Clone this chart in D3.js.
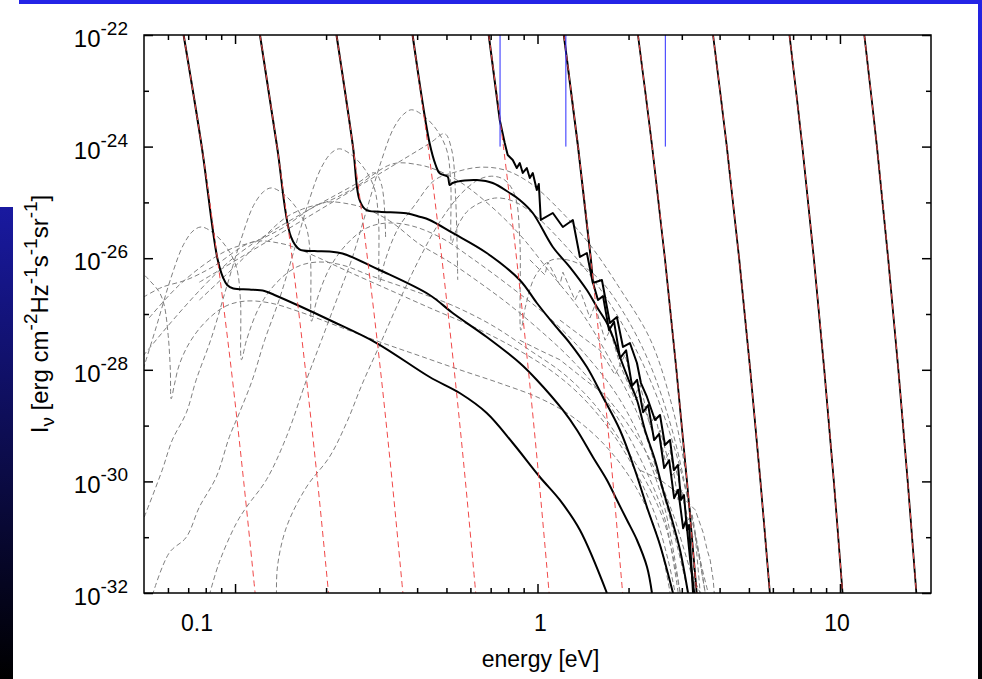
<!DOCTYPE html>
<html>
<head>
<meta charset="utf-8">
<script src="https://cdn.jsdelivr.net/npm/d3@7"></script>
<style>
  body { margin: 0; background: #fff; }
  svg { display: block; }
  text { font-family: "Liberation Sans", Arial, Helvetica, sans-serif; fill: #000; }
</style>
</head>
<body>
<svg id="chart" width="982" height="679"></svg>
<script>
// Energies in eV; intensities given as log10(I_nu) in erg cm^-2 Hz^-1 s^-1 sr^-1.

const xMajorTicks = [0.1, 1, 10];
const xTickText = ["0.1", "1", "10"];
const xMinorTicks = [0.06, 0.07, 0.08, 0.09, 0.2, 0.3, 0.4, 0.5, 0.6, 0.7, 0.8, 0.9,
                     2, 3, 4, 5, 6, 7, 8, 9];
const yMajorExponents = [-22, -24, -26, -28, -30, -32];
const yMinorExponents = [-23, -25, -27, -29, -31];

// energies of the marked transitions (drawn between 1e-24 and 1e-22)
const markerEnergies = [0.752, 1.241, 2.646];
const markerRange = [-24, -22];

// Wien tails: energy at which each tail passes log10 I = -22, -24, ... -32
const tailLevels = [-22, -24, -26, -28, -30, -32];
const tail1  = [0.0676, 0.0776, 0.0874, 0.0972, 0.1068, 0.1165];
const tail2  = [0.1209, 0.1377, 0.1544, 0.1709, 0.1874, 0.2037];
const tail3  = [0.2165, 0.2454, 0.2740, 0.3025, 0.3307, 0.3589];
const tail4  = [0.3864, 0.4348, 0.4827, 0.5303, 0.5777, 0.6249];
const tail5  = [0.6899, 0.7715, 0.8524, 0.9327, 1.0127, 1.0925];
const tail6  = [1.222, 1.3615, 1.500, 1.6376, 1.7753, 1.9119];
const tail7  = [2.1486, 2.3937, 2.6372, 2.8791, 3.1212, 3.3613];
const tail8  = [3.8055, 4.2257, 4.6407, 5.0505, 5.4590, 5.8649];
const tail9  = [6.8084, 7.5107, 8.1960, 8.8746, 9.5452, 10.200];
const tail10 = [12.037, 13.252, 14.43, 15.60, 16.75, 17.889];
const tails = [tail1, tail2, tail3, tail4, tail5, tail6, tail7, tail8, tail9, tail10];

// total spectra [E, log10 I]
const total1 = [[0.0676,-22],[0.0776,-24],[0.0874,-26],[0.0914,-26.355],[0.0942,-26.48],
  [0.0987,-26.543],[0.1115,-26.561],[0.1251,-26.588],[0.1350,-26.659],[0.1633,-26.857],
  [0.2053,-27.108],[0.2937,-27.520],[0.4399,-28.129],[0.5530,-28.416],[0.6794,-28.774],
  [0.8283,-29.312],[1.018,-29.921],[1.185,-30.333],[1.381,-30.871],[1.696,-32]];
const total2 = [[0.1209,-22],[0.1377,-24],[0.1530,-25.615],[0.1633,-25.841],[0.1831,-25.871],
  [0.2053,-25.880],[0.2266,-25.916],[0.3005,-26.211],[0.4399,-26.659],[0.5242,-26.982],
  [0.6794,-27.412],[0.8737,-27.878],[0.995,-28.183],[1.212,-28.720],[1.350,-29.079],
  [1.524,-29.563],[1.696,-29.975],[1.830,-30.333],[1.976,-30.692],[2.132,-31.050],
  [2.302,-31.534],[2.390,-32]];
const total3 = [[0.2165,-22],[0.2454,-24],[0.2580,-24.957],[0.2715,-25.136],[0.3005,-25.167],
  [0.3682,-25.195],[0.4076,-25.256],[0.4399,-25.315],[0.5242,-25.548],[0.6794,-25.907],
  [0.8737,-26.391],[0.995,-26.803],[1.1234,-27.161],[1.279,-27.520],[1.4564,-27.950],
  [1.645,-28.487],[1.873,-29.079],[2.0996,-29.796],[2.318,-30.513],[2.541,-31.140],[2.805,-32]];
const total4 = [[0.3864,-22],[0.4399,-23.941],[0.4605,-24.330],[0.4748,-24.478],[0.5047,-24.539],
  [0.5124,-24.688],[0.5242,-24.652],[0.5743,-24.608],[0.6295,-24.599],[0.7111,-24.652],
  [0.8096,-24.832],[0.8737,-24.957],[0.9647,-25.190],[1.1237,-25.799],[1.279,-26.158],
  [1.456,-26.570],[1.572,-26.875],[1.696,-27.161],[1.776,-27.412],[1.873,-27.771],
  [2.021,-28.237],[2.132,-28.541],[2.266,-29.079],[2.446,-29.616],[2.600,-30.154],
  [2.785,-30.692],[2.959,-31.229],[3.146,-32]];
const total5 = [[0.6899,-22],[0.7502,-23.523],[0.7792,-23.935],[0.7971,-24.151],[0.8284,-24.240],
  [0.8542,-24.384],[0.8737,-24.294],[0.8939,-24.473],[0.9217,-24.384],[0.9430,-24.563],
  [0.9647,-24.473],[0.9947,-24.778],[1.010,-24.670],[1.0254,-25.315],[1.1237,-25.190],
  [1.2129,-25.441],[1.3087,-25.315],[1.381,-25.978],[1.456,-25.907],[1.524,-26.444],
  [1.633,-26.391],[1.735,-27.161],[1.830,-27.054],[1.917,-27.591],[2.021,-27.520],
  [2.132,-27.878],[2.198,-28.237],[2.301,-28.487],[2.446,-28.900],[2.541,-28.810],
  [2.639,-29.348],[2.742,-29.258],[2.827,-29.796],[2.914,-29.706],[2.981,-30.333],
  [3.050,-30.244],[3.121,-30.871],[3.170,-30.781],[3.219,-31.409],[3.268,-32]];
const total6 = [[1.222,-22],[1.3615,-24],[1.500,-26],[1.5256,-26.44],[1.5847,-26.75],
  [1.6467,-26.68],[1.7238,-27.29],[1.7913,-27.14],[1.875,-27.79],[1.963,-27.65],
  [2.054,-28.29],[2.134,-28.18],[2.235,-28.76],[2.321,-28.63],[2.430,-29.26],[2.525,-29.15],
  [2.623,-29.76],[2.724,-29.62],[2.830,-30.30],[2.918,-30.15],[3.031,-30.84],[3.102,-30.69],
  [3.198,-31.41],[3.297,-32]];

// component spectra [E, log10 I]
const comp0 = [[0.0482,-26.21],[0.0520,-26.39],[0.0562,-26.61],[0.0583,-26.84],[0.0601,-27.38],
  [0.0611,-28.00],[0.0615,-28.52],[0.0630,-28.27],[0.0654,-27.91],[0.0706,-27.52],[0.0792,-27.16],
  [0.0922,-26.87],[0.1074,-26.77],[0.1299,-26.80],[0.1633,-26.96],[0.2216,-27.23],[0.3006,-27.50],
  [0.4078,-27.75],[0.5532,-28.00],[0.7506,-28.24],[1.018,-28.51],[1.280,-28.81],[1.609,-29.26],
  [1.948,-29.80],[2.269,-30.42],[2.544,-31.14],[2.745,-32]];
const comp1 = [[0.0497,-27.99],[0.0549,-27.23],[0.0615,-26.34],[0.0675,-25.76],[0.0727,-25.51],
  [0.0774,-25.44],[0.0848,-25.55],[0.0936,-25.80],[0.1010,-26.16],[0.1042,-26.75],[0.1050,-27.82],
  [0.1091,-27.47],[0.1204,-26.87],[0.1371,-26.44],[0.1596,-26.16],[0.1859,-26.07],[0.2250,-26.12],
  [0.2828,-26.32],[0.3836,-26.57],[0.5205,-26.84],[0.7062,-27.20],[0.9435,-27.65],[1.232,-28.09],
  [1.549,-28.63],[1.875,-29.26],[2.269,-29.97],[2.643,-30.78],[2.963,-32]];
const comp2 = [[0.0501,-30.64],[0.0574,-29.80],[0.0620,-29.26],[0.0690,-28.77],[0.0744,-28.18],
  [0.0835,-27.43],[0.0936,-26.53],[0.1050,-25.64],[0.1150,-25.06],[0.1241,-24.81],[0.1319,-24.74],
  [0.1446,-24.85],[0.1596,-25.10],[0.1723,-25.46],[0.1777,-26.05],[0.1790,-27.13],[0.1859,-26.77],
  [0.2053,-26.18],[0.2337,-25.75],[0.2722,-25.46],[0.3171,-25.37],[0.3836,-25.42],[0.4823,-25.64],
  [0.6063,-26.00],[0.8225,-26.53],[1.116,-27.11],[1.491,-27.82],[1.875,-28.54],[2.269,-29.44],
  [2.643,-30.51],[2.963,-32]];
const comp3 = [[0.0533,-32.04],[0.0606,-31.28],[0.0690,-31.00],[0.0762,-30.46],[0.0867,-29.92],
  [0.0958,-29.20],[0.1034,-28.77],[0.1141,-28.18],[0.1251,-27.48],[0.1402,-26.73],[0.1572,-25.84],
  [0.1763,-24.94],[0.1931,-24.37],[0.2085,-24.11],[0.2216,-24.04],[0.2428,-24.15],[0.2681,-24.40],
  [0.2893,-24.76],[0.2983,-25.35],[0.3006,-26.43],[0.3123,-26.07],[0.3448,-25.48],[0.3925,-25.05],
  [0.4572,-24.60],[0.5325,-24.46],[0.6444,-24.37],[0.7797,-24.42],[0.9435,-24.65],[1.186,-25.14],
  [1.491,-25.76],[1.875,-26.55],[2.357,-27.45],[2.745,-28.52],[3.078,-29.80],[3.322,-32]];
const comp4 = [[0.0822,-32.04],[0.0888,-31.44],[0.1010,-30.75],[0.1091,-30.46],[0.1270,-29.97],
  [0.1479,-29.20],[0.1723,-28.18],[0.1931,-27.47],[0.2166,-26.75],[0.2428,-26.03],[0.2722,-25.14],
  [0.3052,-24.24],[0.3344,-23.67],[0.3609,-23.42],[0.3836,-23.34],[0.4204,-23.45],[0.4642,-23.70],
  [0.5010,-24.06],[0.5165,-24.65],[0.5205,-25.73],[0.5407,-25.46],[0.5835,-25.17],[0.6444,-25.01],
  [0.7336,-24.92],[0.8415,-24.99],[0.9802,-25.23],[1.186,-25.67],[1.491,-26.30],[1.875,-27.11],
  [2.357,-28.18],[2.852,-29.44],[3.247,-30.69],[3.585,-32]];
const comp5 = [[0.1371,-32.04],[0.1381,-31.53],[0.1479,-30.82],[0.1723,-30.10],[0.2053,-29.56],
  [0.2337,-28.95],[0.2640,-28.24],[0.3006,-27.56],[0.3501,-26.75],[0.4078,-26.00],[0.4750,-25.35],
  [0.5532,-24.87],[0.6347,-24.60],[0.7062,-24.53],[0.7797,-24.60],[0.8415,-24.87],[0.8742,-25.67],
  [0.8809,-27.29],[0.9151,-26.84],[0.9877,-26.30],[1.116,-26.03],[1.330,-26.07],[1.609,-26.39],
  [1.948,-27.02],[2.357,-27.91],[2.787,-29.08],[3.150,-30.33],[3.451,-31.41],[3.668,-32]];
const broad0 = [[0.0497,-26.70],[0.0574,-26.52],[0.0690,-26.39],[0.0841,-26.16],[0.1141,-25.71],
  [0.1402,-25.73],[0.1596,-25.82],[0.1902,-26.00],[0.2391,-26.25],[0.3244,-26.57],[0.4401,-26.89],
  [0.5971,-27.20],[0.8100,-27.56],[1.099,-28.00],[1.382,-28.45],[1.737,-29.08],[2.102,-29.80],
  [2.449,-30.60],[2.703,-31.41],[2.852,-32]];
const broad1 = [[0.0520,-27.07],[0.0654,-26.48],[0.0848,-26.00],[0.0980,-25.82],[0.1177,-25.69],
  [0.1435,-25.46],[0.1946,-25.01],[0.2391,-25.03],[0.2722,-25.12],[0.3244,-25.33],[0.4078,-25.75],
  [0.5126,-26.07],[0.6444,-26.44],[0.8100,-26.84],[1.018,-27.29],[1.280,-27.79],[1.609,-28.40],
  [1.948,-29.08],[2.321,-29.89],[2.643,-30.69],[2.918,-32]];
const broad2 = [[0.0762,-26.75],[0.1034,-26.07],[0.1446,-25.30],[0.1671,-25.12],[0.2006,-24.99],
  [0.2446,-24.76],[0.3319,-24.31],[0.4078,-24.33],[0.4642,-24.42],[0.5532,-24.63],[0.6955,-25.05],
  [0.8742,-25.58],[1.099,-26.25],[1.382,-26.93],[1.737,-27.82],[2.184,-28.90],[2.583,-30.15],
  [2.918,-31.23],[3.150,-32]];
const ramp0 = [[0.0497,-27.75],[0.0980,-26.01],[0.2581,-24.63],[0.2893,-24.47],[0.3052,-24.69],
  [0.3147,-25.67]];
const ramp1 = [[0.0762,-26.43],[0.1671,-25.32],[0.4401,-23.94],[0.4934,-23.77],[0.5205,-24.06],
  [0.5366,-24.96],[0.5448,-26.39]];
const ragged1 = [[0.9435,-26.03],[1.058,-26.30],[1.082,-26.07],[1.186,-26.48],[1.213,-26.25],
  [1.330,-26.75],[1.382,-26.57],[1.491,-27.07],[1.549,-26.84],[1.672,-27.47],[1.737,-27.29],
  [1.875,-27.91],[1.948,-27.73],[2.102,-28.45],[2.184,-28.27],[2.357,-28.99],[2.449,-28.81],
  [2.643,-29.62],[2.745,-29.44],[2.918,-30.33],[3.009,-30.15],[3.198,-31.05],[3.322,-30.96],
  [3.451,-32]];
const ragged2 = [[1.186,-27.11],[1.382,-27.38],[1.609,-27.65],[1.805,-28.09],[1.875,-27.91],
  [2.102,-28.54],[2.184,-28.45],[2.449,-29.26],[2.544,-29.08],[2.787,-29.89],[2.874,-29.80],
  [3.150,-30.69],[3.247,-30.60],[3.451,-31.41],[3.585,-32]];
const ragged3 = [[0.8742,-27.47],[1.018,-27.65],[1.186,-27.82],[1.435,-28.18],[1.672,-28.45],
  [1.948,-28.90],[2.269,-29.44],[2.544,-29.97],[2.852,-30.69],[3.198,-31.59],[3.451,-32]];
const ragged4 = [[2.184,-29.80],[2.544,-29.97],[2.963,-30.24],[3.322,-30.51],[3.531,-30.92],
  [3.640,-31.23],[3.724,-31.41],[3.811,-31.77],[3.840,-32]];

const smoothComponents = [comp0, comp1, comp2, comp3, comp4, comp5, broad0, broad1, broad2, ramp0, ramp1];
const raggedComponents = [ragged1, ragged2, ragged3, ragged4];

// ---------------------------------------------------------------------------
const W = 982, H = 679;
const L = 144, R = 931, T = 35, B = 593;
const svg = d3.select("#chart");

const x = d3.scaleLog().domain([0.05, 20]).range([L, R]);
const y = d3.scaleLog().domain([1e-32, 1e-22]).range([B, T]);

// page decoration
const defs = svg.append("defs");
const grad = defs.append("linearGradient").attr("id", "edgeFade")
  .attr("gradientUnits", "userSpaceOnUse").attr("x1", 0).attr("y1", 0).attr("x2", 0).attr("y2", H);
grad.append("stop").attr("offset", 0).attr("stop-color", "#2424e6");
grad.append("stop").attr("offset", 1).attr("stop-color", "#000");
svg.append("rect").attr("width", W).attr("height", H).attr("fill", "#fff");
svg.append("rect").attr("x", 19).attr("y", 0).attr("width", W - 19).attr("height", 4).attr("fill", "#2424e6");
svg.append("rect").attr("x", 978).attr("y", 0).attr("width", 4).attr("height", H).attr("fill", "url(#edgeFade)");
svg.append("rect").attr("x", 0).attr("y", 207).attr("width", 13).attr("height", H - 207).attr("fill", "url(#edgeFade)");

defs.append("clipPath").attr("id", "plotClip").append("rect")
  .attr("x", L).attr("y", T).attr("width", R - L).attr("height", B - T);

const plot = svg.append("g").attr("clip-path", "url(#plotClip)");

const smooth = d3.line().x(d => x(d[0])).y(d => y(Math.pow(10, d[1])))
  .curve(d3.curveCatmullRom.alpha(0.5));
const straight = d3.line().x(d => x(d[0])).y(d => y(Math.pow(10, d[1])));

// component spectra (grey dashed)
const greyStyle = sel => sel.attr("fill", "none").attr("stroke", "#808080")
  .attr("stroke-width", 1).attr("stroke-dasharray", "5,3");
plot.append("g").selectAll("path").data(smoothComponents).join("path")
  .attr("d", smooth).call(greyStyle);
plot.append("g").selectAll("path").data(raggedComponents).join("path")
  .attr("d", straight).call(greyStyle);

// total spectra (black solid)
plot.append("g").selectAll("path").data([total1, total2, total3, total4]).join("path")
  .attr("d", smooth).attr("fill", "none").attr("stroke", "#000").attr("stroke-width", 2)
  .attr("stroke-linejoin", "round");
plot.append("g").selectAll("path").data([total5, total6]).join("path")
  .attr("d", straight).attr("fill", "none").attr("stroke", "#000").attr("stroke-width", 2)
  .attr("stroke-linejoin", "round");

// pure tails: black for the hottest ones, then red dashed for every tail
const tailPoints = tails.map(t => t.map((e, i) => [e, tailLevels[i]]));
plot.append("g").selectAll("path").data(tailPoints.slice(6)).join("path")
  .attr("d", smooth).attr("fill", "none").attr("stroke", "#000").attr("stroke-width", 1.8);
plot.append("g").selectAll("path").data(tailPoints).join("path")
  .attr("d", smooth).attr("fill", "none").attr("stroke", "#f04848")
  .attr("stroke-width", 1).attr("stroke-dasharray", "6,4");

// marker lines
plot.append("g").selectAll("line").data(markerEnergies).join("line")
  .attr("x1", d => x(d)).attr("x2", d => x(d))
  .attr("y1", y(Math.pow(10, markerRange[0]))).attr("y2", y(Math.pow(10, markerRange[1])))
  .attr("stroke", "#2b2bff").attr("stroke-width", 1);

// axes with inward ticks on all four sides
function styleAxis(g) {
  g.select(".domain").remove();
  g.selectAll(".tick line").attr("stroke", "#000").attr("stroke-width", 1.5);
}
function ticks(axisFn, scale, values, size, pos) {
  svg.append("g").attr("transform", pos)
    .call(axisFn(scale).tickValues(values).tickSizeInner(-size).tickSizeOuter(0).tickFormat(""))
    .call(styleAxis);
}
ticks(d3.axisBottom, x, xMajorTicks, 9, `translate(0,${B})`);
ticks(d3.axisBottom, x, xMinorTicks, 5, `translate(0,${B})`);
ticks(d3.axisTop, x, xMajorTicks, 9, `translate(0,${T})`);
ticks(d3.axisTop, x, xMinorTicks, 5, `translate(0,${T})`);
const yMajor = yMajorExponents.map(e => Math.pow(10, e));
const yMinor = yMinorExponents.map(e => Math.pow(10, e));
ticks(d3.axisLeft, y, yMajor, 9, `translate(${L},0)`);
ticks(d3.axisLeft, y, yMinor, 5, `translate(${L},0)`);
ticks(d3.axisRight, y, yMajor, 9, `translate(${R},0)`);
ticks(d3.axisRight, y, yMinor, 5, `translate(${R},0)`);

// x tick labels
const xLabelNudge = [-38, 3, -3];
svg.append("g").selectAll("text").data(xMajorTicks).join("text")
  .attr("x", (d, i) => x(d) + xLabelNudge[i]).attr("y", 631)
  .attr("text-anchor", "middle").attr("font-size", 23)
  .text((d, i) => xTickText[i]);

// y tick labels as 10 with a raised exponent
const yLabels = svg.append("g");
yMajorExponents.forEach(e => {
  const t = yLabels.append("text").attr("x", 128).attr("y", y(Math.pow(10, e)) + 12)
    .attr("text-anchor", "end").attr("font-size", 24);
  t.append("tspan").text("10");
  t.append("tspan").attr("dy", -12).attr("font-size", 19).text(String(e));
});

// frame
svg.append("rect").attr("x", L).attr("y", T).attr("width", R - L).attr("height", B - T)
  .attr("fill", "none").attr("stroke", "#000").attr("stroke-width", 1.5);

// axis titles
svg.append("text").attr("x", (L + R) / 2 + 3).attr("y", 667).attr("text-anchor", "middle")
  .attr("font-size", 23).text("energy [eV]");

const yTitle = svg.append("text").attr("transform", `translate(48,${(T + B) / 2}) rotate(-90)`)
  .attr("text-anchor", "middle").attr("font-size", 24);
const titleParts = [
  { t: "I", s: 0 }, { t: "\u03bd", s: 1 }, { t: " [erg cm", s: 0 }, { t: "-2", s: -1 },
  { t: "Hz", s: 0 }, { t: "-1", s: -1 }, { t: "s", s: 0 }, { t: "-1", s: -1 },
  { t: "sr", s: 0 }, { t: "-1", s: -1 }, { t: "]", s: 0 }
];
let shift = 0;
titleParts.forEach(p => {
  const target = p.s === -1 ? -11 : (p.s === 1 ? 6 : 0);
  yTitle.append("tspan").attr("dy", target - shift)
    .attr("font-size", p.s === 0 ? 24 : 19).text(p.t);
  shift = target;
});
</script>
</body>
</html>
